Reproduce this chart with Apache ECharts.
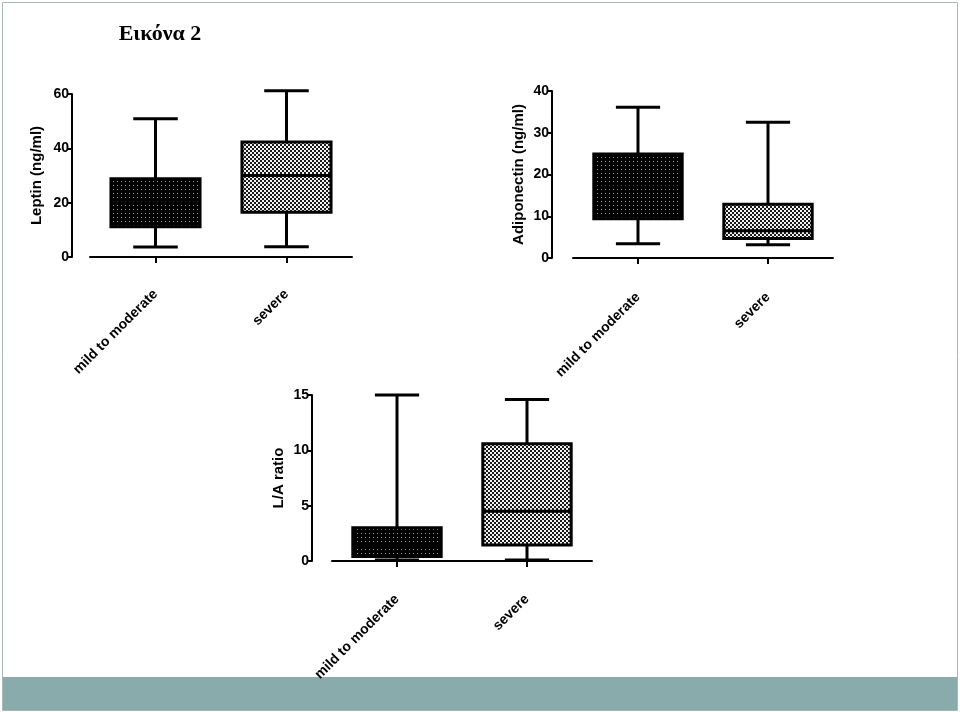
<!DOCTYPE html>
<html>
<head>
<meta charset="utf-8">
<script src="https://cdn.jsdelivr.net/npm/echarts@6/dist/echarts.min.js"></script>
<style>
html,body{margin:0;padding:0;background:#fff;}
#c{width:960px;height:712px;}
</style>
</head>
<body>
<div id="c"></div>
<script>
// ---- data ----
var categories = ['mild to moderate', 'severe'];
var titleText = 'Εικόνα 2';
// each row: [low whisker, Q1, median, Q3, high whisker]
var leptinMild = [3.7, 11.1, 20, 28.8, 50.9];
var leptinSevere = [3.8, 16.5, 30.0, 42.3, 61.2];
var adipoMild = [3.4, 9.4, 17, 24.9, 36.1];
var adipoSevere = [3.2, 4.65, 6.5, 12.9, 32.5];
var ratioMild = [0.1, 0.4, 1.5, 3.0, 15.0];
var ratioSevere = [0.1, 1.45, 4.5, 10.6, 14.6];
var leptinTicks = [0, 60, 20];
var adipoTicks = [0, 40, 10];
var ratioTicks = [0, 15, 5];
var yNames = ['Leptin (ng/ml)', 'Adiponectin (ng/ml)', 'L/A ratio'];

// ---- patterns ----
function makeDots() {
  var c = document.createElement('canvas'); c.width = 4; c.height = 4;
  var g = c.getContext('2d');
  g.fillStyle = '#000'; g.fillRect(0, 0, 4, 4);
  g.fillStyle = '#9a9a9a'; g.fillRect(1, 1, 1, 1);
  return c;
}
function makeChecker() {
  var c = document.createElement('canvas'); c.width = 4; c.height = 4;
  var g = c.getContext('2d');
  g.fillStyle = '#f2f2f2'; g.fillRect(0, 0, 4, 4);
  g.fillStyle = '#1a1a1a'; g.fillRect(0, 0, 2, 2); g.fillRect(2, 2, 2, 2);
  return c;
}
var patDots = { image: makeDots(), repeat: 'repeat' };
var patChecker = { image: makeChecker(), repeat: 'repeat' };

function renderBox(params, api) {
  var cat = api.value(0);
  var lo = api.coord([cat, api.value(1)]);
  var q1 = api.coord([cat, api.value(2)]);
  var med = api.coord([cat, api.value(3)]);
  var q3 = api.coord([cat, api.value(4)]);
  var hi = api.coord([cat, api.value(5)]);
  var band = api.size([1, 0])[0];
  var bw = band * 0.68, cw = band * 0.34;
  var x = lo[0];
  var fill = cat === 0 ? patDots : patChecker;
  var ls = { stroke: '#000', lineWidth: 3 };
  return {
    type: 'group',
    children: [
      { type: 'line', shape: { x1: x, y1: hi[1], x2: x, y2: lo[1] }, style: ls },
      { type: 'line', shape: { x1: x - cw / 2, y1: hi[1], x2: x + cw / 2, y2: hi[1] }, style: ls },
      { type: 'line', shape: { x1: x - cw / 2, y1: lo[1], x2: x + cw / 2, y2: lo[1] }, style: ls },
      { type: 'rect', shape: { x: x - bw / 2, y: q3[1], width: bw, height: q1[1] - q3[1] },
        style: { fill: fill, stroke: '#000', lineWidth: 3 } },
      { type: 'line', shape: { x1: x - bw / 2, y1: med[1], x2: x + bw / 2, y2: med[1] }, style: ls }
    ]
  };
}

function rows(a, b) {
  return [[0].concat(a), [1].concat(b)];
}

var font = 'Liberation Sans, Arial, sans-serif';
var grids = [
  { left: 90, top: 94, width: 262, height: 163 },
  { left: 573, top: 91, width: 260, height: 167 },
  { left: 332, top: 395, width: 260, height: 166 }
];
var yOff = [18, 21, 20];
var xOff = [16, 18, 17];
var nameGaps = [28, 26, 26];
var tickSets = [leptinTicks, adipoTicks, ratioTicks];
var dataSets = [rows(leptinMild, leptinSevere), rows(adipoMild, adipoSevere), rows(ratioMild, ratioSevere)];

var xAxes = [], yAxes = [], series = [];
for (var i = 0; i < 3; i++) {
  xAxes.push({
    type: 'category', gridIndex: i, data: categories, offset: xOff[i],
    axisLine: { show: true, lineStyle: { color: '#000', width: 2 } },
    axisTick: { show: true, alignWithLabel: true, length: 6, lineStyle: { color: '#000', width: 2 } },
    axisLabel: { rotate: 45, margin: 19, color: '#000', fontWeight: 'bold', fontSize: 14, fontFamily: font, interval: 0 },
    splitLine: { show: false }
  });
  yAxes.push({
    type: 'value', gridIndex: i, min: tickSets[i][0], max: tickSets[i][1], interval: tickSets[i][2],
    offset: yOff[i], name: yNames[i], nameLocation: 'middle', nameGap: nameGaps[i],
    nameTextStyle: { color: '#000', fontWeight: 'bold', fontSize: 15, fontFamily: font },
    axisLine: { show: true, lineStyle: { color: '#000', width: 2 } },
    axisTick: { show: true, length: 5, lineStyle: { color: '#000', width: 2 } },
    axisLabel: { color: '#000', fontWeight: 'bold', fontSize: 14, fontFamily: font, margin: 3 },
    splitLine: { show: false }
  });
  series.push({
    type: 'custom', xAxisIndex: i, yAxisIndex: i, renderItem: renderBox,
    encode: { x: 0, y: [1, 2, 3, 4, 5] }, data: dataSets[i], clip: false
  });
}

var chart = echarts.init(document.getElementById('c'), null, { renderer: 'canvas' });
chart.setOption({
  animation: false,
  backgroundColor: '#fff',
  grid: grids,
  xAxis: xAxes,
  yAxis: yAxes,
  series: series,
  graphic: [
    { type: 'rect', z: -10, shape: { x: 2.5, y: 2.5, width: 955, height: 708 }, style: { fill: 'none', stroke: '#aab5b5', lineWidth: 1 } },
    { type: 'rect', z: -9, shape: { x: 3, y: 677, width: 954, height: 33 }, style: { fill: '#8aabab' } },
    { type: 'text', x: 160, y: 34, style: { text: titleText, font: 'bold 22px "Liberation Serif", "Times New Roman", serif', fill: '#000', textAlign: 'center', textVerticalAlign: 'middle' } }
  ]
});
</script>
</body>
</html>
